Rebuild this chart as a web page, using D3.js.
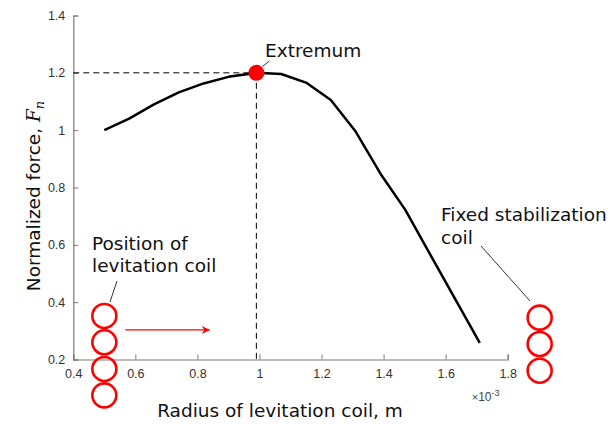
<!DOCTYPE html>
<html>
<head>
<meta charset="utf-8">
<script src="https://cdn.jsdelivr.net/npm/d3@7"></script>
<style>
  body { margin: 0; background: #fff; }
  svg { display: block; }
  .tick text { font-family: "Liberation Sans", Arial, sans-serif; font-size: 12.5px; fill: #333; }
  .note { font-family: "DejaVu Sans", sans-serif; font-size: 18.5px; fill: #111; }
</style>
</head>
<body>
<div id="chart"></div>
<script>
// Radius (x1e-3 m) and normalized force
const radius = [0.50, 0.58, 0.66, 0.74, 0.82, 0.90, 0.99, 1.07, 1.15, 1.23, 1.31, 1.39, 1.47, 1.55, 1.63, 1.71];
const force  = [1.00, 1.04, 1.09, 1.132, 1.163, 1.186, 1.20, 1.196, 1.166, 1.105, 0.995, 0.848, 0.722, 0.567, 0.412, 0.258];
const extremum = { x: 0.99, y: 1.2 };

const xTicks = [0.4, 0.6, 0.8, 1, 1.2, 1.4, 1.6, 1.8];
const yTicks = [0.2, 0.4, 0.6, 0.8, 1, 1.2, 1.4];

// coil sketches in data units
const levCoilY = [0.352, 0.26, 0.167, 0.075];
const levCoilX = 0.5;
const stabCoilY = [0.346, 0.254, 0.161];
const stabCoilX = 1.903;
const arrowX = [0.568, 0.84];
const arrowY = 0.303;

const W = 608, H = 424;
const margin = { top: 15.5, left: 73.3 };
const width = 434.4, height = 344;

const svg = d3.select('#chart').append('svg')
    .attr('width', W).attr('height', H);

const defs = svg.append('defs');
defs.append('marker')
    .attr('id', 'arrowhead')
    .attr('viewBox', '0 0 10 10')
    .attr('refX', 10).attr('refY', 5)
    .attr('markerWidth', 13).attr('markerHeight', 8)
    .attr('markerUnits', 'userSpaceOnUse')
    .attr('orient', 'auto')
    .append('path')
    .attr('d', 'M0,0 L10,5 L0,10 L3,5 Z')
    .attr('fill', '#f00');

const g = svg.append('g')
    .attr('transform', `translate(${margin.left},${margin.top})`);

const x = d3.scaleLinear().domain([0.4, 1.8]).range([0, width]);
const y = d3.scaleLinear().domain([0.2, 1.4]).range([height, 0]);

// Ejes (ticks hacia dentro, estilo MATLAB)
const xAxis = g.append('g')
    .attr('transform', `translate(0,${height})`)
    .call(d3.axisBottom(x).tickValues(xTicks).tickSize(-5).tickPadding(10).tickFormat(d3.format('')));
const yAxis = g.append('g')
    .call(d3.axisLeft(y).tickValues(yTicks).tickSize(-5).tickPadding(8).tickFormat(d3.format('')));
[xAxis, yAxis].forEach(a => {
    a.select('.domain').attr('stroke', '#7a7a7a').attr('stroke-width', 1.2);
    a.selectAll('.tick line').attr('stroke', '#7a7a7a');
});

// ×10^-3
const exp = g.append('text')
    .attr('x', x(1.8) - 36).attr('y', height + 41)
    .attr('font-family', '"Liberation Sans", Arial, sans-serif')
    .attr('font-size', 11).attr('fill', '#444');
exp.append('tspan').text('\u00d7');
exp.append('tspan').attr('font-size', 12).text('10');
exp.append('tspan').attr('dy', -5).attr('font-size', 9).text('-3');

// Líneas guía del extremo
g.append('line')
    .attr('x1', 0).attr('x2', x(extremum.x))
    .attr('y1', y(extremum.y)).attr('y2', y(extremum.y))
    .attr('stroke', '#000').attr('stroke-dasharray', '6,4');
g.append('line')
    .attr('x1', x(extremum.x)).attr('x2', x(extremum.x))
    .attr('y1', y(extremum.y)).attr('y2', height)
    .attr('stroke', '#000').attr('stroke-dasharray', '6,4');

// Curva
const data = radius.map((r, i) => ({ r, f: force[i] }));
g.append('path')
    .datum(data)
    .attr('fill', 'none')
    .attr('stroke', '#000')
    .attr('stroke-width', 2.5)
    .attr('stroke-linejoin', 'round')
    .attr('d', d3.line().x(d => x(d.r)).y(d => y(d.f)));

// Punto extremo
g.append('circle')
    .attr('cx', x(extremum.x)).attr('cy', y(extremum.y))
    .attr('r', 8).attr('fill', '#f00');

// Bobinas
g.selectAll('.lev-coil')
    .data(levCoilY)
    .join('circle')
    .attr('cx', x(levCoilX)).attr('cy', d => y(d))
    .attr('r', 12).attr('fill', 'none')
    .attr('stroke', '#f00').attr('stroke-width', 2.6);
g.selectAll('.stab-coil')
    .data(stabCoilY)
    .join('circle')
    .attr('cx', x(stabCoilX)).attr('cy', d => y(d))
    .attr('r', 12).attr('fill', 'none')
    .attr('stroke', '#f00').attr('stroke-width', 2.6);

// Flecha
g.append('line')
    .attr('x1', x(arrowX[0])).attr('x2', x(arrowX[1]))
    .attr('y1', y(arrowY)).attr('y2', y(arrowY))
    .attr('stroke', '#f00').attr('stroke-width', 1.2)
    .attr('marker-end', 'url(#arrowhead)');

// Anotaciones
const notes = svg.append('g');
notes.append('text').attr('class', 'note').attr('x', 265).attr('y', 57).text('Extremum');
notes.append('line').attr('x1', 262.5).attr('y1', 66.5).attr('x2', 269.5).attr('y2', 61)
    .attr('stroke', '#000').attr('stroke-width', 0.8);

notes.append('text').attr('class', 'note').attr('x', 92).attr('y', 250).text('Position of');
notes.append('text').attr('class', 'note').attr('x', 92).attr('y', 272).text('levitation coil');
notes.append('line').attr('x1', 110).attr('y1', 302).attr('x2', 117).attr('y2', 281)
    .attr('stroke', '#000').attr('stroke-width', 0.8);

notes.append('text').attr('class', 'note').attr('x', 441).attr('y', 221).text('Fixed stabilization');
notes.append('text').attr('class', 'note').attr('x', 441).attr('y', 244).text('coil');
notes.append('line').attr('x1', 481).attr('y1', 246).attr('x2', 530).attr('y2', 301)
    .attr('stroke', '#000').attr('stroke-width', 0.8);

// Etiquetas de ejes
svg.append('text').attr('class', 'note')
    .attr('x', 280).attr('y', 417)
    .attr('text-anchor', 'middle')
    .text('Radius of levitation coil, m');

const yl = svg.append('text').attr('class', 'note')
    .attr('transform', 'translate(40,196) rotate(-90)')
    .attr('text-anchor', 'middle');
yl.append('tspan').text('Normalized force, ');
yl.append('tspan').attr('font-family', '"DejaVu Serif", serif').attr('font-style', 'italic').text('F');
yl.append('tspan').attr('font-family', '"DejaVu Serif", serif').attr('font-style', 'italic')
    .attr('font-size', 13).attr('dy', 4).text('n');
</script>
</body>
</html>
